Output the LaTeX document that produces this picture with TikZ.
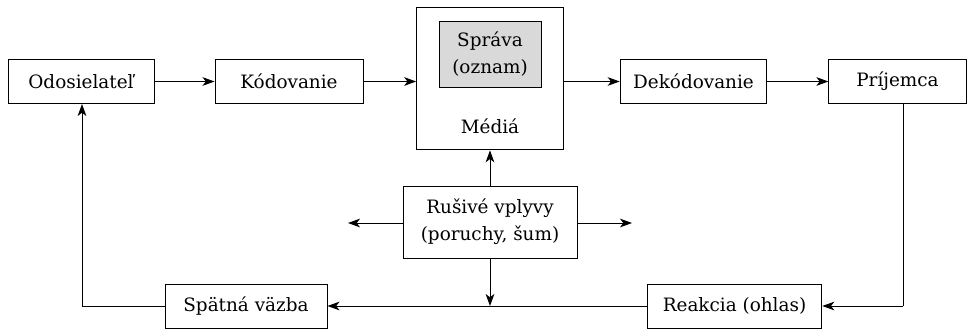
\documentclass[tikz,border=0pt]{standalone}
\usepackage{fontspec}
\setmainfont{DejaVu Serif}
\usetikzlibrary{arrows.meta}
\tikzset{
  blok/.style={draw, line width=0.75pt, inner sep=0pt, align=center,
    minimum height=33pt, font=\fontsize{13.8}{20.5}\selectfont},
  sipka/.style={line width=0.75pt, -{Stealth[length=9pt,width=6.5pt,inset=2.5pt]}},
  ciara/.style={line width=0.75pt}
}
\begin{document}
\begin{tikzpicture}[x=0.75pt, y=-0.75pt]
  \useasboundingbox (0,0) rectangle (974,329);
  \node [blok, minimum width=109.5pt] (odos) at (81,81.5) {Odosielateľ};
  \node [blok, minimum width=111pt] (kod) at (289,81.5) {Kódovanie};
  \node [blok, minimum width=110pt, minimum height=107pt] (media) at (490,78.5) {};
  \node [blok, fill=black!15, minimum width=76.5pt, minimum height=49.5pt] (sprava) at (490,54) {Správa\\(oznam)};
  \node [font=\fontsize{13.8}{20.5}\selectfont] (mlabel) at (490,126) {Médiá};
  \node [blok, minimum width=110pt] (dekod) at (693.5,81.5) {Dekódovanie};
  \node [blok, minimum width=103pt] (prij) at (897.5,81.5) {Príjemca};
  \node [blok, minimum width=130.5pt, minimum height=54pt] (rus) at (490,222) {Rušivé vplyvy\\(poruchy, šum)};
  \node [blok, minimum width=131pt] (reak) at (734.5,306) {Reakcia (ohlas)};
  \node [blok, minimum width=121.5pt] (spat) at (246,306) {Spätná väzba};
  \coordinate (vlavo) at (348,223);
  \coordinate (vpravo) at (632,223);
  \coordinate (uzol) at (rus.south |- reak.west);
  \coordinate (roh1) at (82,306);
  \coordinate (roh2) at (903,306);
  \draw [sipka] (odos) to (kod);
  \draw [sipka] (kod) to (media.west |- kod);
  \draw [sipka] (media.east |- dekod) to (dekod);
  \draw [sipka] (dekod) to (prij);
  \draw [sipka] (rus.north) to (media.south);
  \draw [sipka] (rus.west |- vlavo) to (vlavo);
  \draw [sipka] (rus.east |- vpravo) to (vpravo);
  \draw [sipka] (rus.south) to (uzol);
  \draw [sipka] (reak.west) to (spat.east);
  \draw [ciara] (spat.west) -- (roh1);
  \draw [sipka] (roh1) to (odos.south -| roh1);
  \draw [ciara] (prij.south -| roh2) -- (roh2);
  \draw [sipka] (roh2) to (reak.east);
\end{tikzpicture}
\end{document}
